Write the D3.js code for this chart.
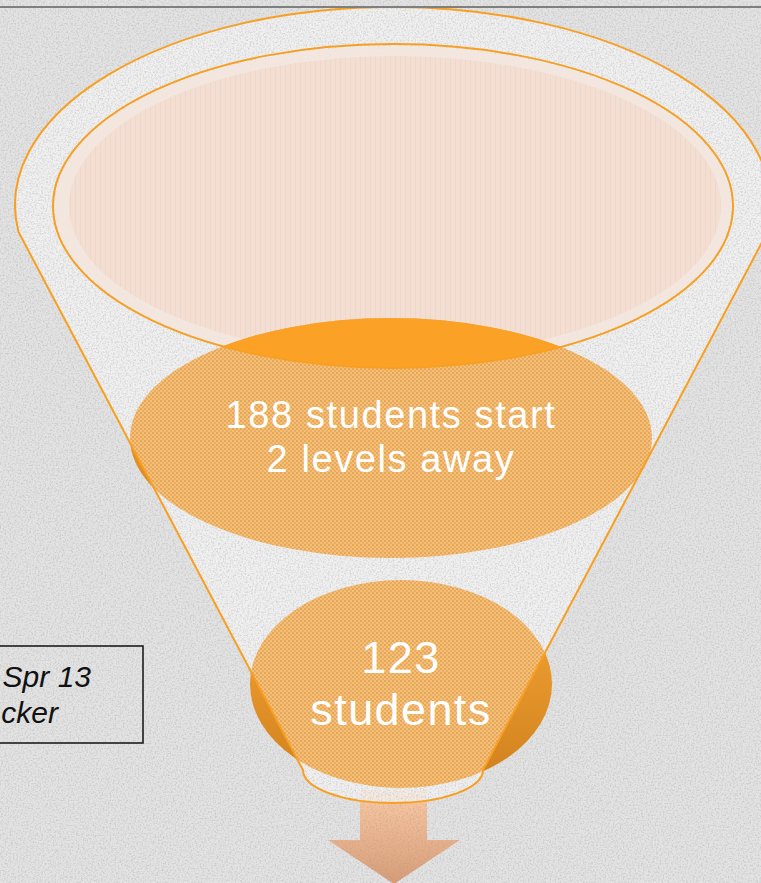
<!DOCTYPE html>
<html>
<head>
<meta charset="utf-8">
<script src="https://cdn.jsdelivr.net/npm/d3@7"></script>
<style>
  html, body { margin: 0; padding: 0; background: #e4e4e4; }
  svg { display: block; }
</style>
</head>
<body>
<svg id="chart" width="761" height="883"></svg>
<script>
// funnel stages, top (open mouth) to bottom
var stageNames  = ["mouth", "start", "reach"];
var stageCounts = [null, 188, 123];
var stageLines  = [[], ["188 students start", "2 levels away"], ["123", "students"]];
var noteLines   = ["Spr 13", "cker"];

var W = 761, H = 883;
var svg = d3.select("#chart");

// layout of stage discs
var cxS = d3.scaleOrdinal().domain(stageNames).range([393, 391, 401]);
var cyS = d3.scaleOrdinal().domain(stageNames).range([206, 438, 684]);
var rxS = d3.scaleOrdinal().domain(stageNames).range([340, 261, 151]);
var ryS = d3.scaleOrdinal().domain(stageNames).range([162, 120, 104]);
var fontS = d3.scaleOrdinal().domain(stageNames).range([0, 38, 45]);
var spaceS = d3.scaleOrdinal().domain(stageNames).range([0, 1.6, 1.4]);
var lineS = d3.scaleOrdinal().domain(stageNames).range([0, 44, 52]);
var baseS = d3.scaleOrdinal().domain(stageNames).range([0, 428, 673]);

var orange = "#f89f22";

// funnel outline geometry
var rim = {cx: 393, cy: 205, rx: 378, ry: 198};
var kinkY = 232, tipY = 770, tipHalf = 90, tipRy = 33;
var kinkDx = rim.rx * Math.sqrt(1 - Math.pow((kinkY - rim.cy) / rim.ry, 2));
var funnelPath = "M" + (rim.cx - kinkDx) + "," + kinkY +
	" A" + rim.rx + " " + rim.ry + " 0 1 1 " + (rim.cx + kinkDx) + "," + kinkY +
	" L" + (rim.cx + tipHalf) + "," + tipY +
	" A" + tipHalf + " " + tipRy + " 0 0 1 " + (rim.cx - tipHalf) + "," + tipY + " Z";

var defs = svg.append("defs");

// speckled paper noise
var noise = defs.append("filter").attr("id", "noise").attr("x", 0).attr("y", 0).attr("width", "100%").attr("height", "100%");
noise.append("feTurbulence").attr("type", "fractalNoise").attr("baseFrequency", 0.6).attr("numOctaves", 2).attr("seed", 4);
noise.append("feColorMatrix").attr("type", "matrix")
	.attr("values", "0 0 0 0 0.3  0 0 0 0 0.3  0 0 0 0 0.3  0 0 0 -2.6 1.5");

// checker texture for the discs
var chk = defs.append("pattern").attr("id", "checker").attr("patternUnits", "userSpaceOnUse").attr("width", 4).attr("height", 4);
chk.append("rect").attr("width", 4).attr("height", 4).attr("fill", "#f3c07c");
chk.append("rect").attr("width", 2).attr("height", 2).attr("fill", "#e7a654");
chk.append("rect").attr("x", 2).attr("y", 2).attr("width", 2).attr("height", 2).attr("fill", "#eaab5e");

// faint vertical stripes for the mouth
var str = defs.append("pattern").attr("id", "stripes").attr("patternUnits", "userSpaceOnUse").attr("width", 5).attr("height", 5);
str.append("rect").attr("width", 5).attr("height", 5).attr("fill", "#f2ded2");
str.append("rect").attr("width", 1).attr("height", 5).attr("fill", "#f3d7c6");

var wing = defs.append("linearGradient").attr("id", "wing").attr("x1", 0).attr("y1", 0).attr("x2", 0).attr("y2", 1);
wing.append("stop").attr("offset", "0%").attr("stop-color", "#f7a838");
wing.append("stop").attr("offset", "100%").attr("stop-color", "#d0801c");

var arrowGrad = defs.append("linearGradient").attr("id", "arrowGrad").attr("x1", 0).attr("y1", 0).attr("x2", 0).attr("y2", 1);
arrowGrad.append("stop").attr("offset", "0%").attr("stop-color", "#fdcba4");
arrowGrad.append("stop").attr("offset", "100%").attr("stop-color", "#d89c76");

defs.append("clipPath").attr("id", "inFunnel").append("path").attr("d", funnelPath);
var outMask = defs.append("mask").attr("id", "outFunnel");
outMask.append("rect").attr("width", W).attr("height", H).attr("fill", "white");
outMask.append("path").attr("d", funnelPath).attr("fill", "black");
defs.append("clipPath").attr("id", "inMouth").append("ellipse")
	.attr("cx", cxS("mouth")).attr("cy", cyS("mouth")).attr("rx", rxS("mouth")).attr("ry", ryS("mouth"));

// background
svg.append("rect").attr("width", W).attr("height", H).attr("fill", "#e3e3e3");

// arrow out of the funnel
var ax = 394;
svg.append("path")
	.attr("d", "M" + (ax - 34) + ",790 L" + (ax + 33) + ",790 L" + (ax + 33) + ",840 L" + (ax + 66) + ",840 L" + ax + ",884 L" + (ax - 66) + ",840 L" + (ax - 34) + ",840 Z")
	.attr("fill", "url(#arrowGrad)");

// glassy funnel body
svg.append("path").attr("d", funnelPath).attr("fill", "#f2f2f2").attr("fill-opacity", 0.8);

// paper speckle
svg.append("rect").attr("width", W).attr("height", H).attr("filter", "url(#noise)").attr("opacity", 0.3);

// mouth of the funnel
var m = "mouth";
svg.append("ellipse").attr("cx", cxS(m)).attr("cy", cyS(m)).attr("rx", rxS(m) - 2).attr("ry", ryS(m) - 2).attr("fill", "#f3e6de").attr("fill-opacity", 0.9);
svg.append("ellipse").attr("cx", cxS(m) + 2).attr("cy", cyS(m)).attr("rx", rxS(m) - 14).attr("ry", ryS(m) - 12).attr("fill", "url(#stripes)");

// stage discs
function drawDisc(name, capped) {
	var g = svg.append("g");
	g.append("ellipse").attr("cx", cxS(name)).attr("cy", cyS(name)).attr("rx", rxS(name)).attr("ry", ryS(name))
		.attr("fill", "url(#checker)").attr("clip-path", "url(#inFunnel)");
	g.append("ellipse").attr("cx", cxS(name)).attr("cy", cyS(name)).attr("rx", rxS(name)).attr("ry", ryS(name))
		.attr("fill", "url(#wing)").attr("mask", "url(#outFunnel)");
	if (capped) {
		g.append("ellipse").attr("cx", cxS(name)).attr("cy", cyS(name)).attr("rx", rxS(name)).attr("ry", ryS(name))
			.attr("fill", "#fba226").attr("clip-path", "url(#inMouth)");
	}
}
drawDisc("start", true);
drawDisc("reach", false);

// outlines
svg.append("ellipse").attr("cx", cxS(m)).attr("cy", cyS(m)).attr("rx", rxS(m)).attr("ry", ryS(m))
	.attr("fill", "none").attr("stroke", orange).attr("stroke-width", 2);
svg.append("path").attr("d", funnelPath).attr("fill", "none").attr("stroke", orange).attr("stroke-width", 2);

// header rule
svg.append("line").attr("x1", 0).attr("x2", W).attr("y1", 7).attr("y2", 7)
	.attr("stroke", "#7f7f7f").attr("stroke-width", 2);

// stage labels, one text per line
stageNames.forEach(function(name, i) {
	if (stageCounts[i] == null) return;
	stageLines[i].forEach(function(line, j) {
		svg.append("text")
			.attr("x", cxS(name))
			.attr("y", baseS(name) + j * lineS(name))
			.attr("text-anchor", "middle")
			.attr("fill", "white")
			.style("font-family", "'Liberation Sans', Arial, sans-serif")
			.style("font-size", fontS(name) + "px")
			.style("letter-spacing", spaceS(name) + "px")
			.text(line);
	});
});

// side note box, cut off by the left edge
svg.append("rect").attr("x", -10).attr("y", 646).attr("width", 153).attr("height", 97)
	.attr("fill", "none").attr("stroke", "#111").attr("stroke-width", 1.5);
noteLines.forEach(function(line, i) {
	svg.append("text")
		.attr("x", i == 0 ? 91 : 58)
		.attr("y", 687 + i * 36)
		.attr("text-anchor", "end")
		.attr("fill", "#111")
		.style("font-family", "'Liberation Sans', Arial, sans-serif")
		.style("font-style", "italic")
		.style("font-size", "30px")
		.text(line);
});
</script>
</body>
</html>
